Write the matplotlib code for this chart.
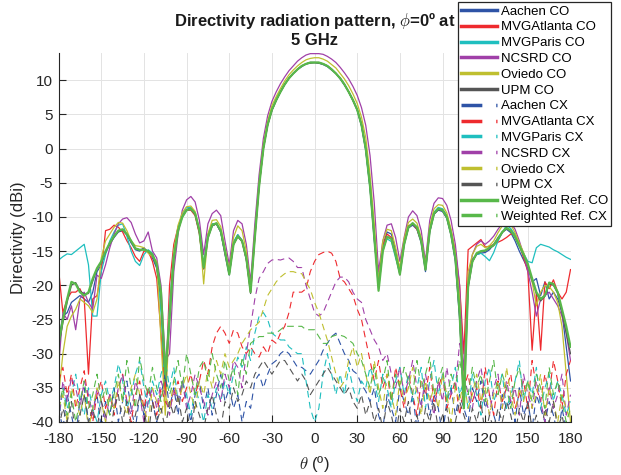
import numpy as np
import matplotlib.pyplot as plt

plt.rcParams['font.family'] = ['Liberation Sans', 'DejaVu Sans']
plt.rcParams['mathtext.fontset'] = 'cm'
plt.rcParams['axes.unicode_minus'] = False

# measurement angles (deg), 3 deg step
theta = np.arange(-180, 181, 3)

# ---- co-polar directivity (dBi) ----
aachen_co = [
    -28, -24.5, -24, -22.5, -22, -21.5, -22, -22.5, -21, -18, -17, -15.2,
    -14, -13, -12.2, -12, -12.6, -13.8, -14.8, -15, -14.5, -15.2, -16, -17.5,
    -22, -35, -24, -15.5, -11.8, -9.8, -8.9, -8.7, -9.6, -12.3, -17.6, -12.8,
    -11.3, -11, -12.2, -15.5, -18.5, -13.8, -12.6, -13.4, -16.3, -20.5, -12.8, -5.3,
    0.1, 3.5, 5.6, 7.1, 8.3, 9.4, 10.3, 11, 11.6, 12, 12.4, 12.6,
    12.6, 12.5, 12.3, 12, 11.5, 11, 10.2, 9.3, 8.3, 7, 5.6, 3.3,
    -0.3, -5.8, -13.5, -19.5, -14.2, -12.2, -12.5, -14.8, -17.8, -13.8, -11.6, -11.2,
    -11.8, -13.8, -18, -12.2, -9.6, -9, -9.2, -10.2, -12.7, -16.5, -25, -36,
    -19, -16.2, -15.5, -15.3, -15.2, -14.8, -14, -13, -12.2, -11.8, -12.3, -13.5,
    -15, -16.3, -17.5, -19.5, -19, -21.5, -19.5, -22, -21, -22, -24, -29,
    -34]
atlanta_co = [
    -17.7, -24, -22, -21, -21, -20.5, -22, -33, -22, -21.5, -18, -12,
    -11.8, -11.2, -11.5, -12.2, -13.5, -14.5, -15.8, -16.5, -15, -15, -16.5, -19,
    -27, -36, -20, -14, -11.5, -9.8, -9, -9, -9.8, -12.5, -17.6, -12.6,
    -11, -11, -12.2, -15.3, -18, -13.8, -12.8, -13.6, -16.2, -21, -12.8, -5.4,
    0, 3.5, 5.7, 7.1, 8.3, 9.4, 10.3, 11, 11.6, 12.1, 12.4, 12.6,
    12.6, 12.6, 12.4, 12.1, 11.6, 11, 10.3, 9.4, 8.3, 7.1, 5.7, 3.6,
    0.2, -5.2, -12.5, -19.5, -14.2, -12.5, -13, -15.5, -18, -13.5, -11.3, -11,
    -11.8, -13.5, -17.2, -11.8, -9.4, -8.8, -8.9, -9.8, -12, -15, -20, -30,
    -14.8, -14.3, -13.8, -13.3, -14.4, -14.3, -14, -13.7, -13.4, -13, -12.5, -12.4,
    -14, -16, -18, -29.5, -21, -29.5, -19.5, -20.5, -19.2, -21, -22, -21,
    -17.7]
paris_co = [
    -16.3, -15.8, -15.4, -15.5, -15.0, -14.5, -14, -17, -24.5, -24.5, -18, -15.5,
    -13.5, -12.2, -11.2, -11, -12.8, -15, -16.5, -17.1, -15.5, -14.8, -15.3, -17,
    -24, -34, -23, -15, -11.5, -9.5, -8.6, -8.6, -9.4, -12, -17, -12.6,
    -11, -11, -12.2, -15.2, -18.2, -13.6, -12.6, -13.5, -16, -20.5, -12.6, -5.2,
    0.1, 3.6, 5.7, 7.1, 8.3, 9.4, 10.3, 11, 11.6, 12.1, 12.4, 12.6,
    12.6, 12.6, 12.4, 12.1, 11.6, 11, 10.3, 9.4, 8.3, 7.1, 5.7, 3.5,
    -0.1, -5.6, -13, -19, -14.5, -13.2, -13.6, -16, -18.2, -14, -11.6, -11,
    -11.5, -13.3, -17.3, -11.8, -9.3, -8.6, -8.8, -9.8, -12.3, -16, -24, -37,
    -20, -16.5, -15.5, -15.3, -15.8, -16.4, -15.2, -13.5, -12.3, -11.2, -11.7, -12.6,
    -14, -15.3, -16.5, -16.7, -14.5, -14, -14.2, -14.4, -14.8, -15.1, -15.5, -15.9,
    -16.2]
ncsrd_co = [
    -32, -24, -25, -23, -26.5, -22, -21, -22.5, -23.5, -18.5, -19, -17,
    -14.5, -12.5, -11, -10.3, -10.1, -10.8, -12.5, -13.8, -13.5, -12.2, -15, -16,
    -20, -31, -30, -18, -12.5, -9, -7.5, -7, -7.8, -10.5, -15.5, -11,
    -9.5, -9, -9.8, -13.5, -17, -12, -10.5, -11, -14, -19.5, -11, -3.8,
    1.5, 4.8, 6.9, 8.3, 9.5, 10.5, 11.4, 12.1, 12.8, 13.3, 13.7, 13.9,
    13.9, 13.9, 13.8, 13.5, 13.1, 12.6, 11.9, 11.1, 10.2, 9.1, 7.8, 6,
    3.4, -1, -8, -18, -13.5, -11.2, -11, -13, -16.5, -13, -10, -9.1,
    -9.8, -12, -16.5, -10.5, -8, -7.2, -7.3, -8.3, -10.5, -14, -20, -33,
    -19, -15.5, -14, -13.5, -14, -13.5, -12.8, -11.8, -11, -10.5, -10.8, -11.8,
    -13.5, -15.5, -18, -21, -24.5, -22, -21.5, -21, -22, -23, -24.5, -27,
    -31]
oviedo_co = [
    -36, -30, -26, -24.5, -23.5, -22, -22.5, -23, -24, -22, -16, -13.5,
    -12.5, -11.5, -10.8, -10.9, -12, -13.5, -14.2, -14.3, -14.5, -15.3, -15.8, -16.5,
    -28, -39, -24, -15, -11.2, -9.4, -8.5, -8.4, -9.2, -11.8, -19.8, -12.5,
    -10.5, -10.4, -11.4, -14.5, -17.8, -13, -11.3, -12, -15, -20.5, -12.5, -5,
    0.6, 4, 6.3, 7.6, 8.8, 9.9, 10.8, 11.5, 12.1, 12.6, 13, 13.2,
    13.3, 13.3, 13.1, 12.8, 12.3, 11.8, 11, 10.2, 9.2, 8, 6.6, 4.6,
    1.6, -3.8, -11, -19.5, -13.5, -11.8, -12, -14.5, -17.5, -13.2, -10.8, -10.3,
    -10.9, -13, -17, -11.3, -8.8, -8.2, -8.3, -9.4, -11.8, -15.3, -22, -36,
    -18, -15.5, -14.3, -14, -14.5, -14.2, -13.5, -12.3, -11.3, -10.6, -11.1, -12.3,
    -13.8, -15.2, -17, -19.5, -23, -21, -20, -20.2, -21, -22.5, -26, -33,
    -40]
upm_co = [
    -29, -25.5, -22.5, -20, -19.6, -20.8, -21.3, -21.2, -19.4, -17.6, -16.6, -15.2,
    -13.9, -12.9, -12.1, -11.9, -12.6, -13.6, -14.6, -14.8, -14.7, -15, -15.6, -17.2,
    -21.5, -34, -25, -16, -12, -10, -9, -8.9, -9.6, -12.1, -17.5, -13.1,
    -11.3, -11, -12.1, -15.2, -18.4, -14.1, -12.9, -13.6, -16.1, -21.2, -13.2, -5.6,
    0, 3.4, 5.6, 7, 8.3, 9.4, 10.3, 11, 11.6, 12.1, 12.4, 12.5,
    12.6, 12.5, 12.4, 12.1, 11.6, 11, 10.3, 9.4, 8.3, 7.1, 5.7, 3.4,
    -0.1, -5.6, -13.1, -20.5, -15, -12.9, -13.2, -15.6, -18.5, -14.1, -11.6, -11,
    -11.6, -13.6, -17.8, -12.1, -9.6, -8.9, -9.1, -10.1, -12.6, -16.2, -24.5, -38,
    -20.5, -16.6, -15.4, -15.1, -15, -14.6, -14.2, -13.3, -12.3, -11.7, -12.1, -13,
    -14.3, -15.6, -17, -19.2, -21.2, -22.3, -21.6, -19.8, -20, -21.2, -24, -27,
    -30]
weighted_co = [
    -28.5, -25, -22, -19.5, -19.8, -21, -21.5, -21, -19, -17.5, -16.5, -15,
    -13.8, -12.8, -12, -11.8, -12.5, -13.5, -14.6, -14.8, -14.8, -15, -15.5, -17,
    -21, -33, -25, -16, -12, -10, -9, -8.8, -9.5, -12, -17.4, -13,
    -11.2, -10.9, -12, -15, -18.4, -14, -12.8, -13.5, -16, -21, -13, -5.5,
    0, 3.5, 5.7, 7.1, 8.3, 9.4, 10.3, 11, 11.6, 12.1, 12.4, 12.6,
    12.6, 12.6, 12.4, 12.1, 11.6, 11, 10.3, 9.4, 8.3, 7.1, 5.7, 3.5,
    0, -5.5, -13, -20.8, -15, -12.9, -13.2, -15.5, -18.4, -14, -11.5, -10.9,
    -11.5, -13.5, -17.7, -12, -9.5, -8.8, -9, -10, -12.5, -16, -24, -38,
    -20, -16.5, -15.3, -15, -14.9, -14.5, -14.1, -13.2, -12.2, -11.6, -12, -12.9,
    -14.2, -15.5, -16.9, -19, -21, -22, -21.5, -19.6, -19.8, -21, -23.5, -26,
    -29]

# ---- cross-polar directivity (dBi) ----
aachen_cx = [
    -38, -41, -36, -39, -42, -37, -35, -40, -38, -36, -41, -37,
    -39, -35, -40, -37, -34, -38, -41, -36, -39, -35, -37, -40,
    -36, -33, -38, -35, -39, -34, -37, -40, -36, -34, -38, -35,
    -39, -36, -33, -37, -35, -38, -36, -40, -37, -38, -34, -33,
    -35, -33, -31.5, -31, -30, -29.5, -30, -31, -32, -32, -32.5, -33,
    -32, -31, -29.5, -28.5, -27.5, -27, -28.5, -30, -31, -32.5, -33, -34.5,
    -35.5, -37, -35, -39, -41, -36, -38, -40, -35, -37, -39, -36,
    -41, -37, -35, -39, -36, -38, -42, -37, -35, -39, -36, -38,
    -40, -35, -37, -34, -38, -36, -39, -41, -36, -38, -37, -40,
    -35, -39, -37, -41, -36, -38, -40, -37, -39, -42, -38, -41,
    -40]
atlanta_cx = [
    -34, -32, -36, -33, -38, -35, -32.5, -37, -40, -36, -34, -38,
    -36, -39, -35, -33, -37, -40, -36, -34, -38, -35, -37, -39,
    -35, -37, -38, -36, -34, -37, -35, -33, -36, -34, -31, -33,
    -29, -27, -26, -27, -28.5, -26.5, -27, -29, -30, -29, -30, -30.5,
    -29, -30, -28, -28.5, -27, -26, -24, -21, -21, -21, -20.5, -18,
    -16.5, -15.5, -15.2, -15, -15.3, -16.5, -19, -19.5, -20.5, -21.5, -23.5, -25,
    -28, -31, -34, -31, -35, -33, -37, -32, -35, -38, -33, -36,
    -39, -34, -36, -32, -37, -35, -33, -38, -36, -34, -39, -35,
    -33, -37, -35, -38, -32, -36, -39, -34, -37, -35, -33, -38,
    -36, -34, -38, -31, -35, -37, -33, -36, -31, -34, -38, -33,
    -31]
paris_cx = [
    -40, -35, -38, -36, -33, -37, -39, -35, -38, -40, -36, -34,
    -37, -35, -31.5, -34, -38, -36, -33, -31, -35, -38, -34, -36,
    -33, -31, -35, -32, -37, -34, -36, -39, -35, -37, -40, -36,
    -38, -35, -37, -34, -36, -33, -30.5, -32, -29, -31, -27, -24.5,
    -24, -25, -27, -27.5, -28, -28, -29, -29.5, -30, -30, -34, -38,
    -40, -38, -33, -30, -33, -36, -33, -36, -32, -35, -37, -34,
    -35, -32, -34, -37, -33, -35, -38, -34, -32, -36, -33, -37,
    -35, -32, -38, -34, -31, -36, -33, -37, -35, -32, -36, -34,
    -38, -33, -36, -39, -34, -32, -37, -35, -33, -38, -36, -34,
    -31, -37, -34, -36, -32, -38, -35, -33, -37, -34, -36, -39,
    -37]
ncsrd_cx = [
    -40, -34, -37, -33.5, -35, -38, -34, -36, -39, -35, -37, -40,
    -36, -38, -35, -33, -37, -39, -34, -36, -40, -37, -35, -38,
    -34, -36, -39, -35, -37, -34, -38, -36, -33, -35, -37, -39,
    -36, -34, -37, -33, -35, -31, -32, -35, -30, -26, -22, -19,
    -18, -16.8, -16.3, -16.2, -16.3, -16.1, -16, -16.5, -17.4, -17.4, -20, -22,
    -24, -24.5, -24, -22.5, -21, -19.5, -18.8, -18.8, -19.5, -21, -22, -22.5,
    -25, -26.5, -28, -29, -31, -30, -33, -35, -32, -36, -34, -31,
    -35, -38, -33, -36, -39, -34, -37, -32, -36, -35, -28.5, -33,
    -36, -38, -34, -32, -36, -39, -35, -33, -38, -34, -37, -35,
    -39, -33, -36, -38, -34, -37, -40, -35, -38, -36, -33, -39,
    -36]
oviedo_cx = [
    -38, -36, -40, -35, -37, -39, -36, -41, -38, -35, -37, -40,
    -36, -38, -34, -37, -39, -35, -33, -36, -38, -40, -35, -37,
    -39, -36, -38, -34, -37, -35, -33, -36, -38, -34, -36, -32.5,
    -35, -31, -33, -30, -32, -31, -30, -28.5, -27.5, -26.5, -26, -25.4,
    -23.5, -21.5, -20.5, -19.5, -18.8, -18.3, -18, -18, -18.2, -18.3, -19.5, -20.6,
    -22.5, -24, -26, -28, -30.5, -33, -35, -34, -31, -29, -32, -30,
    -33, -36, -31, -35, -38, -33, -36, -39, -34, -37, -35, -32,
    -36, -39, -34, -37, -35, -38, -33, -36, -40, -35, -37, -34,
    -38, -36, -33, -37, -35, -39, -36, -34, -38, -32, -36, -39,
    -35, -37, -34, -38, -36, -33, -39, -35, -37, -40, -36, -38,
    -40]
upm_cx = [
    -41, -38, -40, -37, -42, -39, -36, -40, -38, -41, -37, -39,
    -42, -38, -36, -40, -37, -41, -39, -36, -38, -42, -37, -40,
    -38, -41, -37, -39, -36, -40, -38, -42, -37, -39, -41, -38,
    -36, -39, -41, -37, -38, -35, -37, -36, -34, -35, -33, -32,
    -31, -32, -33, -32, -31, -31, -32, -33, -34, -33, -34, -36,
    -35, -34, -33, -32, -33, -34, -35, -36, -35, -37, -38, -36,
    -39, -37, -40, -38, -41, -37, -39, -42, -38, -40, -37, -41,
    -39, -42, -38, -40, -37, -41, -39, -38, -42, -40, -37, -39,
    -41, -38, -40, -37, -42, -39, -41, -38, -40, -37, -39, -42,
    -38, -40, -37, -41, -39, -42, -38, -40, -37, -41, -39, -42,
    -40]
weighted_cx = [
    -38, -35, -39, -36, -40, -37, -34, -38, -36, -33, -37, -35,
    -39, -36, -33, -37, -31, -35, -38, -30.5, -34, -36, -32, -35,
    -37, -33, -36, -34, -31, -35, -30, -33, -36, -32, -31, -34,
    -30, -33, -35, -31, -34, -32, -36, -30.5, -33, -28.5, -28, -27.5,
    -27.5, -27, -27, -27, -26.5, -26, -26, -26, -26, -26, -26.5, -26.5,
    -26.5, -27.5, -28.5, -28.5, -27.5, -27.3, -27.3, -27.5, -28, -28.5, -30, -31,
    -33, -35, -32, -36, -34, -31, -37, -33, -35, -32, -34, -36,
    -31, -35, -33, -30.5, -36, -34, -32, -37, -33, -35, -31, -34,
    -36, -32, -35, -33, -37, -34, -31, -36, -33, -35, -38, -34,
    -32, -36, -34, -37, -33, -35, -38, -32, -36, -34, -37, -40,
    -38]

names = ['Aachen', 'MVGAtlanta', 'MVGParis', 'NCSRD', 'Oviedo', 'UPM']
colors = ['#2E53A6', '#EE2A2E', '#1FBFBF', '#A040A8', '#BFBF2F', '#555555']
co_data = [aachen_co, atlanta_co, paris_co, ncsrd_co, oviedo_co, upm_co]
cx_data = [aachen_cx, atlanta_cx, paris_cx, ncsrd_cx, oviedo_cx, upm_cx]
green = '#58B84A'
dash = (0, (6, 4))

fig = plt.figure(figsize=(6.21, 4.75), dpi=100)
ax = fig.add_axes([0.0944, 0.1116, 0.8243, 0.7762])

for n, c, d in zip(names, colors, co_data):
    ax.plot(theta, d, color=c, lw=0.9, label=n + ' CO')
for n, c, d in zip(names, colors, cx_data):
    ax.plot(theta, d, color=c, lw=0.8, ls=dash, label=n + ' CX')
ax.plot(theta, weighted_co, color=green, lw=1.6, label='Weighted Ref. CO')
ax.plot(theta, weighted_cx, color=green, lw=0.8, ls=dash, label='Weighted Ref. CX')

ax.set_xlim(-180, 180)
ax.set_ylim(-40, 13.95)
ax.set_xticks(np.arange(-180, 181, 30))
ax.set_yticks(np.arange(-40, 11, 5))
ax.grid(True, color='#e3e3e3', lw=0.7)
ax.set_axisbelow(True)
ax.spines['top'].set_visible(False)
ax.spines['right'].set_visible(False)
for s in ['left', 'bottom']:
    ax.spines[s].set_color('#262626')
ax.tick_params(direction='in', length=5, labelsize=11, colors='#262626')
ax.tick_params(axis='x', pad=7)
ax.tick_params(axis='y', pad=4)

ax.set_xlabel(r'$\theta$ (º)', fontsize=12, color='#262626', labelpad=6)
ax.set_ylabel('Directivity (dBi)', fontsize=12, color='#262626', labelpad=4)
ax.set_title('Directivity radiation pattern, $\\phi$=0º at\n5 GHz',
             fontsize=12, fontweight='bold', color='#1a1a1a', pad=6)

leg = fig.legend(loc='upper left', bbox_to_anchor=(458/621, 1 - 2/475),
                 fontsize=9.5, frameon=True, fancybox=False, framealpha=1,
                 edgecolor='#262626', labelspacing=0.27, handlelength=2.7,
                 handletextpad=0.3, borderpad=0.25, borderaxespad=0)
leg.get_frame().set_linewidth(0.9)
for h in leg.legend_handles:
    h.set_linewidth(2.5)

fig.savefig('out.png', dpi=100)
